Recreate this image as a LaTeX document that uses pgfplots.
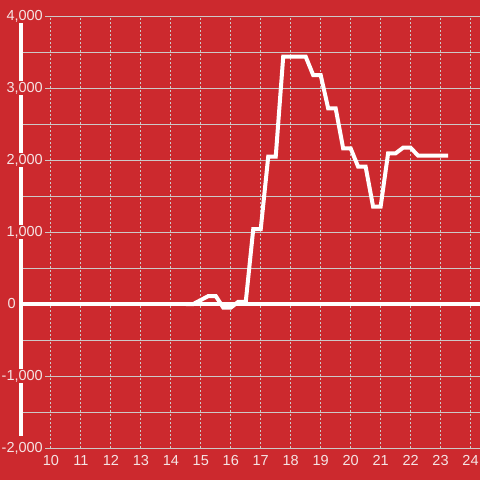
\documentclass[border=0pt]{standalone}
\usepackage{pgfplots}
\pgfplotsset{compat=1.18}
\usepackage{fontspec}
\setmainfont{Liberation Sans}
\definecolor{bg}{RGB}{204,41,46}
\definecolor{grd}{RGB}{205,200,200}
\definecolor{lbl}{RGB}{245,228,228}
\begin{document}
\begin{tikzpicture}
\begin{axis}[
  set layers,
  clip=false,
  at={(0,0)}, anchor=south west,
  scale only axis, width=459bp, height=432bp,
  xmin=9, xmax=24.3167, ymin=-2000, ymax=4000,
  axis line style={draw=none},
  major tick length=0pt, minor tick length=0pt,
  xtick={10,11,...,24},
  xticklabels={10,11,12,13,14,15,16,17,18,19,20,21,22,23,24},
  ytick={-2000,-1000,1000,2000,3000,4000},
  yticklabels={{-2,000},{-1,000},{1,000},{2,000},{3,000},{4,000}},
  minor ytick={-1500,-500,500,1500,2500,3500},
  xmajorgrids, ymajorgrids, yminorgrids,
  x grid style={grd, line width=1bp, dash pattern=on 2bp off 2bp},
  y grid style={grd, line width=1bp},
  minor y grid style={grd, line width=1bp},
  tick label style={font=\fontsize{14.5bp}{17bp}\selectfont, text=lbl},
  xticklabel style={anchor=north, inner sep=0pt, yshift=-7bp},
  yticklabel style={anchor=east, inner xsep=2bp, inner ysep=1.5bp, fill=bg, xshift=24bp},
  extra y ticks={0},
  extra y tick labels={0},
  extra y tick style={yticklabel style={fill=none, inner sep=0pt, xshift=-29bp}},
]
\begin{pgfonlayer}{axis background}
\fill[bg] ([shift={(-21bp,-32bp)}]rel axis cs:0,0) rectangle ([shift={(0bp,16bp)}]rel axis cs:1,1);
\end{pgfonlayer}
\begin{pgfonlayer}{axis grid}
\draw[white, line width=3.2bp] (axis cs:9,4000) -- (axis cs:9,-1840);
\draw[white, line width=4bp] (axis cs:8.95,0) -- (axis cs:24.3167,0);
\end{pgfonlayer}
\addplot[white, line width=4bp, line join=miter] coordinates {
(14.5,0) (14.75,0) (15.0,55) (15.25,110) (15.5,110) (15.75,-50) (16.0,-50)
(16.25,30) (16.5,30) (16.75,1040) (17.0,1040) (17.25,2046) (17.5,2046)
(17.75,3435) (18.0,3435) (18.25,3435) (18.5,3435) (18.75,3180) (19.0,3180)
(19.25,2718) (19.5,2718) (19.75,2162) (20.0,2162) (20.25,1907) (20.5,1907)
(20.75,1351) (21.0,1351) (21.25,2093) (21.5,2093) (21.75,2171) (22.0,2171)
(22.25,2060) (22.5,2060) (22.75,2060) (23.0,2060) (23.25,2060)
};
\end{axis}
\pgfresetboundingbox
\useasboundingbox (-21bp,-32bp) rectangle (459bp,448bp);
\end{tikzpicture}
\end{document}
